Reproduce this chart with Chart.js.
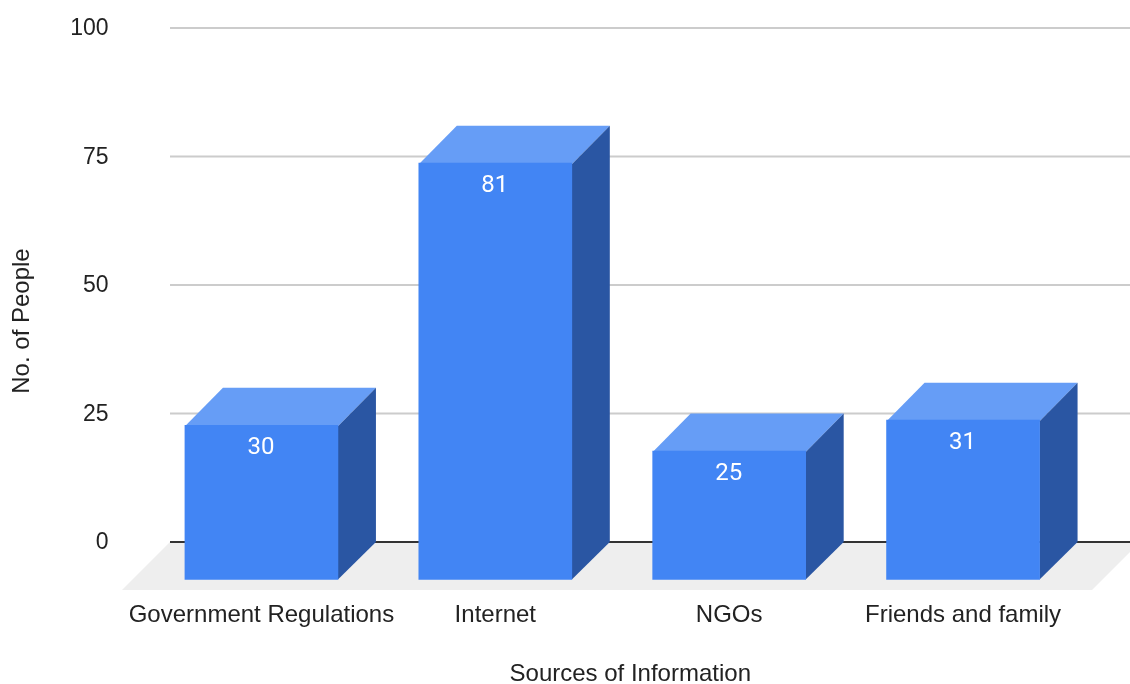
<!DOCTYPE html>
<html>
<head>
<meta charset="utf-8">
<style>
  html, body { margin: 0; padding: 0; background: #fff; }
  canvas { display: block; }
</style>
<script src="https://cdn.jsdelivr.net/npm/chart.js@4/dist/chart.umd.js"></script>
</head>
<body>
<canvas id="chart" width="1130" height="684"></canvas>
<script>
// Survey results: where respondents get their information.
const categories = ['Government Regulations', 'Internet', 'NGOs', 'Friends and family'];
const peopleCounts = [30, 81, 25, 31];
const yTicks = [0, 25, 50, 75, 100];

const FONT = '"Liberation Sans", Arial, sans-serif';
const LABEL_FONT = 'Roboto, Arial, sans-serif';
const FRONT = '#4285f4', TOP = '#669df6', SIDE = '#2a56a3';
const DEPTH_X = 38, DEPTH_Y = 37.5;   // extrusion of the boxes toward the viewer
const FLOOR_DROP = 48;

// Extruded box look: the scale-positioned bar is the back plane; top and side
// faces are painted first, then the library's own bar is shifted to the front.
const boxBars = {
  id: 'boxBars',
  beforeDatasetDraw(chart, args) {
    const { ctx } = chart;
    ctx.save();
    for (const bar of chart.getDatasetMeta(args.index).data) {
      const half = bar.width / 2;
      const l = bar.x - half, r = bar.x + half, t = bar.y, b = bar.base;
      ctx.fillStyle = TOP;
      ctx.beginPath();
      ctx.moveTo(l, t);
      ctx.lineTo(r, t);
      ctx.lineTo(r - DEPTH_X, t + DEPTH_Y + 1);
      ctx.lineTo(l - DEPTH_X, t + DEPTH_Y + 1);
      ctx.closePath();
      ctx.fill();
      ctx.fillStyle = SIDE;
      ctx.beginPath();
      ctx.moveTo(r, t);
      ctx.lineTo(r, b);
      ctx.lineTo(r - DEPTH_X, b + DEPTH_Y);
      ctx.lineTo(r - DEPTH_X, t + DEPTH_Y + 1);
      ctx.closePath();
      ctx.fill();
    }
    ctx.translate(-DEPTH_X, DEPTH_Y);
  },
  afterDatasetDraw(chart, args) {
    const { ctx } = chart;
    ctx.restore();
    ctx.save();
    ctx.fillStyle = '#ffffff';
    ctx.font = '24px ' + LABEL_FONT;
    ctx.textAlign = 'center';
    ctx.textBaseline = 'middle';
    chart.getDatasetMeta(args.index).data.forEach((bar, i) => {
      ctx.fillText(String(peopleCounts[i]), bar.x - DEPTH_X - 0.5, bar.y + DEPTH_Y + 23);
    });
    ctx.restore();
  }
};

// Floor parallelogram and the value lines, which run past the category band.
const backdrop = {
  id: 'backdrop',
  beforeDatasetsDraw(chart) {
    const { ctx, scales: { y } } = chart;
    const base = y.getPixelForValue(0);
    ctx.save();
    ctx.fillStyle = '#eeeeee';
    ctx.beginPath();
    ctx.moveTo(170, base);
    ctx.lineTo(1140, base);
    ctx.lineTo(1140 - FLOOR_DROP, base + FLOOR_DROP);
    ctx.lineTo(170 - FLOOR_DROP, base + FLOOR_DROP);
    ctx.closePath();
    ctx.fill();
    ctx.lineWidth = 2;
    for (const v of yTicks) {
      const py = y.getPixelForValue(v);
      ctx.strokeStyle = v === 0 ? '#333333' : '#cccccc';
      ctx.beginPath();
      ctx.moveTo(170, py);
      ctx.lineTo(1130, py);
      ctx.stroke();
    }
    ctx.restore();
  }
};

// Axis titles are centred on the front plane of the boxes rather than the back one.
function shiftTitle(dx, dy) {
  return function (scale) {
    if (scale.__shifted) return;
    scale.__shifted = true;
    const draw = scale.drawTitle;
    scale.drawTitle = function () {
      const c = this.ctx;
      c.save();
      c.translate(dx, dy);
      draw.call(this);
      c.restore();
    };
  };
}

// The plot box is laid out by hand, so tick labels may overhang it freely.
function fixBox(prop, size) {
  return function (s) {
    s[prop] = size;
    s.paddingLeft = s.paddingRight = s.paddingTop = s.paddingBottom = 0;
  };
}

new Chart(document.getElementById('chart'), {
  type: 'bar',
  plugins: [backdrop, boxBars],
  data: {
    labels: categories,
    datasets: [{
      label: 'No. of People',
      data: peopleCounts,
      backgroundColor: FRONT,
      borderWidth: 0,
      clip: false,
      barThickness: 153
    }]
  },
  options: {
    responsive: false,
    animation: false,
    devicePixelRatio: 1,
    layout: { padding: { top: 28, right: 12, left: 0, bottom: 0 } },
    plugins: { legend: { display: false }, tooltip: { enabled: false } },
    scales: {
      x: {
        beforeUpdate: shiftTitle(-20, 5),
        afterFit: fixBox('height', 142),
        grid: { display: false },
        border: { display: false },
        ticks: {
          color: '#222222',
          font: { family: FONT, size: 24 },
          padding: 51,
          labelOffset: -38,
          maxRotation: 0,
          autoSkip: false
        },
        title: {
          display: true,
          text: 'Sources of Information',
          color: '#222222',
          font: { family: FONT, size: 24 },
          padding: { top: 28, bottom: 0 }
        }
      },
      y: {
        min: 0,
        max: 100,
        beforeUpdate: shiftTitle(0, 36),
        afterFit: fixBox('width', 182.5),
        grid: { display: false },
        border: { display: false },
        ticks: {
          stepSize: 25,
          color: '#222222',
          font: { family: FONT, size: 23 },
          padding: 66,
          labelOffset: 1
        },
        title: {
          display: true,
          text: 'No. of People',
          color: '#222222',
          font: { family: FONT, size: 24 },
          padding: { top: 8, bottom: 0 }
        }
      }
    }
  }
});
</script>
</body>
</html>
